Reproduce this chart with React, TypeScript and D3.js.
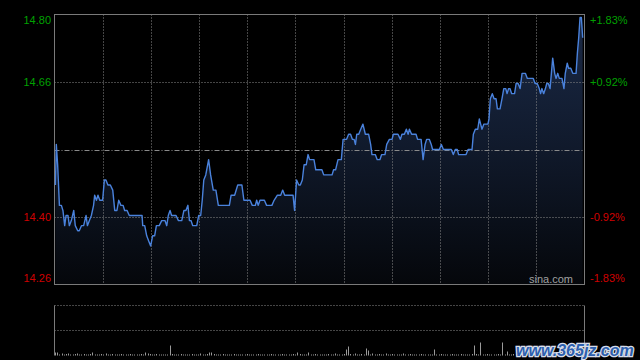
import { useEffect, useRef } from 'react';
import * as d3 from 'd3';

// previous close and the symmetric percent range shown by the chart
const prevClose = 14.53;
const maxPct = 0.0183;

const leftLabels = ['14.80', '14.66', '', '14.40', '14.26'];
const rightLabels = ['+1.83%', '+0.92%', '', '-0.92%', '-1.83%'];

// minute of the session (0..240) and price
const minutes = [
  0.2, 0.6, 1.2, 2.0, 2.9, 3.6, 4.4, 5.0, 5.9, 6.5, 7.4, 8.5, 9.2, 10.3, 11.0, 12.0, 13.0, 14.1, 14.7, 15.6,
  16.5, 17.5, 18.0, 18.8, 19.5, 20.3, 21.6, 22.4, 23.1, 24.0, 25.1, 26.2, 27.1, 28.1, 28.9, 29.9, 30.9, 31.6, 32.7, 33.7,
  39.5, 39.8, 40.7, 41.6, 42.5, 43.4, 44.3, 45.2, 46.0, 47.3, 48.4, 49.9, 50.7, 51.4, 52.2, 52.9, 54.9, 56.0, 57.5, 58.5,
  59.4, 60.3, 61.0, 61.7, 62.5, 64.3, 65.2, 66.1, 66.8, 67.5, 68.4, 69.7, 70.6, 71.8, 73.0, 74.1, 79.1, 79.9, 81.5, 82.9,
  84.8, 85.7, 88.5, 89.5, 90.9, 91.5, 92.2, 93.0, 95.0, 96.0, 98.4, 99.4, 100.9, 102.4, 103.3, 104.2, 108.0, 108.7, 109.6, 110.6,
  111.3, 112.2, 113.0, 114.0, 114.8, 115.5, 117.5, 118.3, 121.1, 121.9, 125.7, 126.4, 127.3, 128.4, 129.9, 130.7, 132.3, 133.2, 134.1, 134.9,
  135.7, 136.3, 136.9, 137.8, 138.7, 139.7, 140.8, 142.3, 143.2, 143.8, 145.3, 146.2, 147.4, 148.2, 149.7, 150.5, 151.7, 152.9, 153.5, 155.6,
  156.7, 157.4, 158.5, 159.4, 160.2, 160.8, 161.8, 163.8, 164.5, 166.1, 167.0, 167.9, 168.6, 169.8, 170.7, 171.3, 174.4, 175.3, 176.2, 179.8,
  180.7, 181.6, 182.5, 183.1, 186.5, 187.4, 189.2, 189.8, 190.7, 191.8, 192.5, 193.7, 194.6, 196.4, 196.9, 197.5, 198.4, 199.2, 200.1, 200.7,
  201.9, 202.8, 203.6, 204.5, 205.1, 205.8, 206.4, 207.2, 208.5, 209.2, 210.1, 211.0, 211.9, 213.4, 214.3, 217.0, 217.8, 218.8, 219.7, 220.3,
  220.9, 221.7, 222.5, 223.1, 223.8, 224.6, 225.2, 225.8, 226.7, 227.3, 228.1, 228.8, 230.0, 230.9, 231.5, 232.4, 233.0, 234.0, 234.9, 236.4,
  237.0, 237.6, 238.2, 238.8, 239.4,
];
const prices = [
  14.46, 14.54, 14.50, 14.42, 14.42, 14.41, 14.38, 14.40, 14.40, 14.38, 14.39, 14.41, 14.38, 14.37, 14.37, 14.38, 14.38, 14.40, 14.38, 14.39,
  14.40, 14.42, 14.44, 14.43, 14.44, 14.43, 14.43, 14.47, 14.47, 14.46, 14.46, 14.45, 14.41, 14.41, 14.43, 14.42, 14.42, 14.41, 14.41, 14.40,
  14.40, 14.38, 14.38, 14.36, 14.35, 14.34, 14.36, 14.36, 14.38, 14.38, 14.39, 14.39, 14.38, 14.40, 14.41, 14.40, 14.40, 14.39, 14.39, 14.41,
  14.41, 14.42, 14.39, 14.39, 14.38, 14.38, 14.40, 14.40, 14.43, 14.47, 14.48, 14.51, 14.48, 14.45, 14.45, 14.42, 14.42, 14.44, 14.44, 14.46,
  14.46, 14.43, 14.43, 14.42, 14.42, 14.43, 14.42, 14.43, 14.43, 14.42, 14.42, 14.43, 14.44, 14.44, 14.45, 14.44, 14.44, 14.41, 14.47, 14.46,
  14.46, 14.47, 14.50, 14.50, 14.52, 14.51, 14.51, 14.49, 14.49, 14.48, 14.48, 14.49, 14.49, 14.51, 14.51, 14.55, 14.55, 14.56, 14.56, 14.55,
  14.55, 14.54, 14.56, 14.56, 14.57, 14.58, 14.56, 14.56, 14.54, 14.52, 14.52, 14.51, 14.51, 14.52, 14.52, 14.54, 14.55, 14.55, 14.56, 14.56,
  14.55, 14.56, 14.56, 14.57, 14.56, 14.57, 14.56, 14.56, 14.55, 14.55, 14.51, 14.54, 14.55, 14.55, 14.54, 14.53, 14.53, 14.54, 14.53, 14.53,
  14.52, 14.53, 14.53, 14.52, 14.52, 14.53, 14.53, 14.56, 14.57, 14.57, 14.59, 14.57, 14.58, 14.58, 14.59, 14.63, 14.64, 14.63, 14.63, 14.61,
  14.61, 14.63, 14.65, 14.65, 14.64, 14.65, 14.65, 14.64, 14.64, 14.66, 14.66, 14.65, 14.68, 14.68, 14.67, 14.67, 14.66, 14.66, 14.65, 14.64,
  14.65, 14.64, 14.65, 14.66, 14.66, 14.65, 14.68, 14.71, 14.68, 14.67, 14.68, 14.67, 14.67, 14.65, 14.68, 14.70, 14.69, 14.69, 14.68, 14.68,
  14.72, 14.75, 14.79, 14.79, 14.75,
];

// per-minute volume (lots)
const volumes = [
  300, 300, 100, 200, 100, 150, 200, 100, 100, 150, 200, 100, 100, 150, 100, 100, 150, 300, 100, 100,
  100, 150, 100, 200, 100, 100, 150, 100, 100, 100, 150, 100, 100, 100, 150, 100, 100, 100, 100, 150,
  100, 300, 200, 150, 100, 100, 150, 100, 100, 100, 100, 100, 1000, 150, 100, 100, 100, 150, 100, 100,
  100, 100, 150, 100, 100, 100, 200, 100, 100, 150, 300, 300, 150, 100, 100, 100, 150, 100, 100, 100,
  100, 150, 100, 100, 100, 100, 100, 150, 100, 100, 100, 100, 150, 100, 100, 100, 100, 100, 150, 100,
  100, 100, 100, 150, 100, 100, 100, 100, 150, 100, 300, 150, 100, 100, 100, 300, 100, 100, 150, 100,
  100, 100, 100, 100, 150, 100, 100, 200, 100, 100, 100, 150, 600, 900, 150, 100, 200, 100, 100, 150,
  100, 700, 500, 100, 200, 100, 100, 150, 100, 100, 200, 100, 100, 150, 100, 100, 100, 100, 200, 100,
  100, 150, 100, 100, 100, 100, 150, 100, 100, 100, 100, 100, 600, 100, 100, 150, 100, 100, 100, 100,
  150, 100, 100, 100, 150, 100, 100, 100, 100, 150, 1000, 150, 100, 1300, 100, 100, 150, 100, 100, 100,
  100, 150, 100, 1300, 100, 400, 100, 100, 150, 100, 100, 100, 150, 100, 100, 100, 100, 150, 100, 100,
  100, 150, 100, 100, 100, 500, 150, 100, 100, 100, 150, 100, 200, 100, 100, 150, 300, 800, 900, 400,
  300,
];

export default function App() {
  const svgRef = useRef<SVGSVGElement>(null);

  useEffect(() => {
    const width = 640;
    const height = 360;
    const left = 54.5, right = 584.5, top = 14.5, bottom = 284.5;
    const vTop = 305.5, vBottom = 355.5;
    const green = '#00a000';
    const red = '#d00000';
    const font = '"Liberation Sans", Arial, sans-serif';

    const svg = d3.select(svgRef.current)
      .attr('width', width)
      .attr('height', height);
    svg.selectAll('*').remove();

    svg.append('rect').attr('width', width).attr('height', height).attr('fill', '#000');

    const x = d3.scaleLinear().domain([0, 240]).range([left + 0.5, right - 0.5]);
    const y = d3.scaleLinear()
      .domain([prevClose * (1 - maxPct), prevClose * (1 + maxPct)])
      .range([bottom, top]);
    const yv = d3.scaleLinear().domain([0, 5000]).range([vBottom, vTop]);
    const cols = d3.scaleLinear().domain([0, 11]).range([left, right]);
    const rows = d3.scaleLinear().domain([0, 4]).range([top, bottom]);

    const defs = svg.append('defs');
    const grad = defs.append('linearGradient')
      .attr('id', 'areaFill')
      .attr('gradientUnits', 'userSpaceOnUse')
      .attr('x1', 0).attr('x2', 0).attr('y1', top).attr('y2', bottom);
    grad.append('stop').attr('offset', '0%').attr('stop-color', '#1b2a47');
    grad.append('stop').attr('offset', '45%').attr('stop-color', '#111b2e');
    grad.append('stop').attr('offset', '100%').attr('stop-color', '#05070b');

    const pts = minutes.map((m, i) => [m, prices[i]] as [number, number]);

    svg.append('path')
      .datum(pts)
      .attr('fill', 'url(#areaFill)')
      .attr('d', d3.area<[number, number]>()
        .x(d => x(d[0]))
        .y0(bottom)
        .y1(d => y(d[1])));

    // grid
    const grid = svg.append('g').attr('stroke', '#8a8a8a').attr('stroke-width', 1).attr('fill', 'none');
    d3.range(1, 11).forEach(i => {
      const cx = Math.round(cols(i)) + 0.5;
      grid.append('line').attr('x1', cx).attr('x2', cx).attr('y1', top).attr('y2', bottom)
        .attr('stroke-dasharray', '1,2');
    });
    [1, 3].forEach(i => {
      grid.append('line').attr('x1', left).attr('x2', right).attr('y1', Math.round(rows(i)) + 0.5).attr('y2', Math.round(rows(i)) + 0.5)
        .attr('stroke-dasharray', '1,2');
    });
    grid.append('line').attr('x1', left).attr('x2', right)
      .attr('y1', Math.round(y(prevClose)) + 0.5).attr('y2', Math.round(y(prevClose)) + 0.5)
      .attr('stroke-dasharray', '5,2,1,2');

    svg.append('rect')
      .attr('x', left).attr('y', top).attr('width', right - left).attr('height', bottom - top)
      .attr('fill', 'none').attr('stroke', '#7a7a7a');

    svg.append('path')
      .datum(pts)
      .attr('fill', 'none')
      .attr('stroke', '#4a82dc')
      .attr('stroke-width', 1.4)
      .attr('stroke-linejoin', 'round')
      .attr('d', d3.line<[number, number]>().x(d => x(d[0])).y(d => y(d[1])));

    // axis labels
    leftLabels.forEach((t, i) => {
      if (!t) return;
      const ty = i === 0 ? rows(i) + 6 : i === 4 ? rows(i) - 6 : rows(i);
      svg.append('text')
        .attr('x', 51).attr('y', ty).attr('dy', '0.35em')
        .attr('text-anchor', 'end')
        .attr('font-family', font).attr('font-size', 11)
        .attr('fill', i < 2 ? green : red)
        .text(t);
    });
    rightLabels.forEach((t, i) => {
      if (!t) return;
      const ty = i === 0 ? rows(i) + 6 : i === 4 ? rows(i) - 6 : rows(i);
      svg.append('text')
        .attr('x', 590).attr('y', ty).attr('dy', '0.35em')
        .attr('font-family', font).attr('font-size', 11)
        .attr('fill', i < 2 ? green : red)
        .text(t);
    });

    svg.append('text')
      .attr('x', 573).attr('y', 282.5)
      .attr('text-anchor', 'end')
      .attr('font-family', font).attr('font-size', 11)
      .attr('fill', '#a0a0a0')
      .text('sina.com');

    // volume panel
    const vol = svg.append('g');
    vol.append('line').attr('x1', left).attr('x2', right).attr('y1', vTop).attr('y2', vTop)
      .attr('stroke', '#8a8a8a').attr('stroke-dasharray', '1,2');
    vol.append('line').attr('x1', left).attr('x2', right).attr('y1', (vTop + vBottom) / 2).attr('y2', (vTop + vBottom) / 2)
      .attr('stroke', '#8a8a8a').attr('stroke-dasharray', '1,2');
    vol.append('line').attr('x1', left).attr('x2', left).attr('y1', vTop).attr('y2', vBottom)
      .attr('stroke', '#7a7a7a');
    vol.append('line').attr('x1', right).attr('x2', right).attr('y1', vTop).attr('y2', vBottom)
      .attr('stroke', '#7a7a7a');

    vol.selectAll('line.bar')
      .data(volumes)
      .enter()
      .append('line')
      .attr('class', 'bar')
      .attr('x1', (d, i) => Math.round(x(i)) + 0.5)
      .attr('x2', (d, i) => Math.round(x(i)) + 0.5)
      .attr('y1', vBottom)
      .attr('y2', d => yv(d))
      .attr('stroke', '#9a9a9a');

    // watermark
    svg.append('text')
      .attr('x', 516).attr('y', 356)
      .attr('font-family', font).attr('font-size', 16)
      .attr('font-weight', 'bold').attr('font-style', 'italic')
      .attr('fill', '#2d5fae')
      .attr('stroke', '#d8dde8').attr('stroke-width', 2.5)
      .attr('paint-order', 'stroke')
      .text('www.365jz.com');
  }, []);

  return (
    <svg ref={svgRef} style={{ position: 'fixed', left: 0, top: 0, display: 'block' }}></svg>
  );
}
